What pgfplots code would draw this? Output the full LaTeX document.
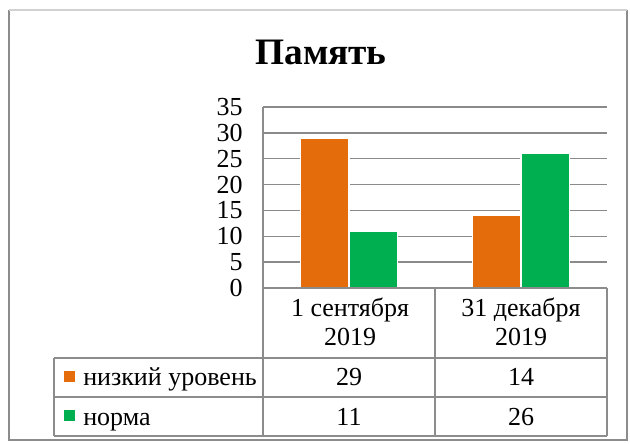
\documentclass[border=0pt]{standalone}
\usepackage{pgfplots}
\pgfplotsset{compat=1.18}
\usepackage{fontspec}
\setmainfont{Liberation Serif}
\definecolor{orng}{HTML}{E46C0A}
\definecolor{grn}{HTML}{00B050}
\definecolor{gridc}{HTML}{8A8A8A}
\definecolor{framec}{HTML}{8C8C8C}
\begin{document}
\begin{tikzpicture}
\begin{scope}[x=0.75pt,y=0.75pt]
\useasboundingbox (0,0) rectangle (630,443);
\fill[white] (0,0) rectangle (630,443);
\end{scope}
\begin{axis}[
  at={(197.25pt,116.25pt)}, anchor=south west,
  scale only axis, width=258pt, height=135.75pt,
  xmin=-0.5, xmax=1.5, ymin=0, ymax=35,
  ytick={0,5,...,35}, xtick=\empty,
  ymajorgrids, grid style={gridc, line width=1pt},
  axis line style={draw=none},
  major tick length=0pt,
  /pgf/number format/assume math mode=true,
  yticklabel style={font=\fontsize{19.5}{22}\selectfont, inner sep=0pt, anchor=east, xshift=-15pt},
  ybar=0pt, bar width=0.28,
  clip=false,
]
\addplot[fill=orng, draw=white, line width=0.9pt] coordinates {(0,29) (1,14)};
\addplot[fill=grn, draw=white, line width=0.9pt] coordinates {(0,11) (1,26)};
\end{axis}
\begin{scope}[x=0.75pt,y=0.75pt]
% outer frame
\draw[framec, line width=1.5pt] (8.5,433) -- (8.5,3) -- (627,3) -- (627,433);
\draw[black!18, line width=1.5pt] (8.5,433) -- (627,433);
% title
\node[anchor=base, font=\fontsize{28}{32}\selectfont\bfseries, inner sep=0pt] at (321,378) {Память};
% table lines
\begin{scope}[framec, line width=1.2pt]
\draw (263,336) -- (263,7);
\draw (263,155) -- (607,155);
\draw (54,85) -- (607,85);
\draw (54,46) -- (607,46);
\draw (54,7) -- (607,7);
\draw (54,85) -- (54,7);
\draw (435,155) -- (435,7);
\draw (607,155) -- (607,7);
\end{scope}
\begin{scope}[every node/.style={inner sep=0pt, font=\fontsize{19.5}{22}\selectfont}]
\node[anchor=base] at (350,127) {1 сентября};
\node[anchor=base] at (350,98) {2019};
\node[anchor=base] at (521,127) {31 декабря};
\node[anchor=base] at (521,98) {2019};
\node[anchor=base] at (349,58) {29};
\node[anchor=base] at (521,58) {14};
\node[anchor=base] at (349,18) {11};
\node[anchor=base] at (521,18) {26};
\node[anchor=base west] at (83,58) {низкий уровень};
\node[anchor=base west] at (83,18) {норма};
\end{scope}
\fill[orng] (64,61) rectangle (75,72);
\fill[grn] (64,22) rectangle (75,33);
\end{scope}
\end{tikzpicture}
\end{document}
